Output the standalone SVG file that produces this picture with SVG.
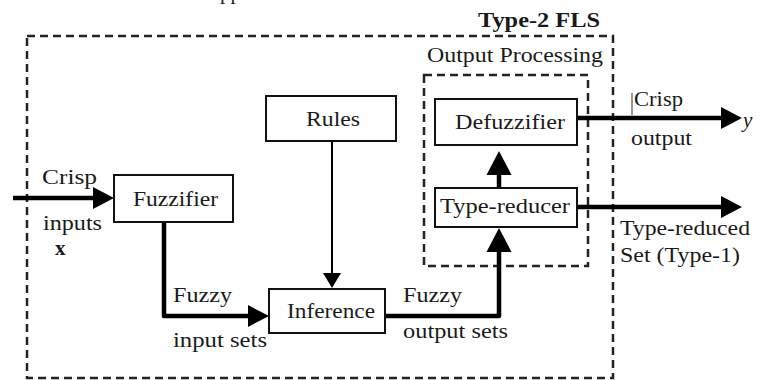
<svg xmlns="http://www.w3.org/2000/svg" width="758" height="380" viewBox="0 0 758 380">
<style>
text{font-family:"Liberation Serif","Times New Roman",serif;font-size:21px;fill:#1a1a1a}
.b{font-weight:bold}
.box{fill:#fff;stroke:#111;stroke-width:2}
.dash{fill:none;stroke:#222;stroke-width:2.5;stroke-dasharray:8 5}
.thick{fill:none;stroke:#000;stroke-width:4.5;stroke-linejoin:round}
.thin{fill:none;stroke:#000;stroke-width:2}
.mid{text-anchor:middle}
</style>
<defs>
<marker id="ah" markerUnits="userSpaceOnUse" markerWidth="30" markerHeight="30" viewBox="0 -15 30 30" refX="0" refY="0" orient="auto" overflow="visible"><path d="M0,-11 L21,0 L0,11 z" fill="#000"/></marker>
<marker id="av" markerUnits="userSpaceOnUse" markerWidth="30" markerHeight="30" viewBox="0 -15 30 30" refX="0" refY="0" orient="auto" overflow="visible"><path d="M0,-12.5 L24,0 L0,12.5 z" fill="#000"/></marker>
<marker id="at" markerUnits="userSpaceOnUse" markerWidth="30" markerHeight="30" viewBox="0 -15 30 30" refX="0" refY="0" orient="auto" overflow="visible"><path d="M0,-9 L15,0 L0,9 z" fill="#000"/></marker>
</defs>
<text x="220" y="-1" font-size="22">pp</text>
<g id="type2-fls">
<rect class="dash" x="27" y="36" width="586" height="342"/>
<text class="b" x="478" y="27" textLength="122" lengthAdjust="spacingAndGlyphs">Type-2 FLS</text>
</g>
<g id="output-processing">
<rect class="dash" x="424" y="75" width="164" height="191"/>
<text x="427" y="62" textLength="176" lengthAdjust="spacingAndGlyphs">Output Processing</text>
</g>
<g id="connectors">
<line class="thick" x1="13" y1="198" x2="93" y2="198" marker-end="url(#ah)"/>
<path class="thick" d="M164,222 V316 H248" marker-end="url(#ah)"/>
<line class="thin" x1="332" y1="141" x2="332" y2="273" marker-end="url(#at)"/>
<path class="thick" d="M385,316 H499 V252" marker-end="url(#av)"/>
<line class="thick" x1="499" y1="188" x2="499" y2="175" marker-end="url(#av)"/>
<line class="thick" x1="577" y1="118" x2="721" y2="118" marker-end="url(#ah)"/>
<line class="thick" x1="577" y1="207" x2="721" y2="207" marker-end="url(#ah)"/>
<line x1="632" y1="93" x2="632" y2="115" stroke="#333" stroke-width="1"/>
<text x="42" y="184" textLength="55" lengthAdjust="spacingAndGlyphs">Crisp</text>
<text x="43" y="230" textLength="59" lengthAdjust="spacingAndGlyphs">inputs</text>
<text class="b" x="55" y="255">x</text>
<text x="173" y="302" textLength="59" lengthAdjust="spacingAndGlyphs">Fuzzy</text>
<text x="173" y="347" textLength="94" lengthAdjust="spacingAndGlyphs">input sets</text>
<text x="403" y="302" textLength="59" lengthAdjust="spacingAndGlyphs">Fuzzy</text>
<text x="403" y="338" textLength="105" lengthAdjust="spacingAndGlyphs">output sets</text>
<text x="634" y="106" textLength="49" lengthAdjust="spacingAndGlyphs">Crisp</text>
<text x="631" y="145" textLength="61" lengthAdjust="spacingAndGlyphs">output</text>
<text x="743" y="127" font-style="italic">y</text>
<text x="620" y="235" textLength="130" lengthAdjust="spacingAndGlyphs">Type-reduced</text>
<text x="620" y="262" textLength="120" lengthAdjust="spacingAndGlyphs">Set (Type-1)</text>
</g>
<g id="rules">
<rect class="box" x="266" y="96" width="130" height="45"/>
<text x="306" y="126" textLength="54" lengthAdjust="spacingAndGlyphs">Rules</text>
</g>
<g id="fuzzifier">
<rect class="box" x="114" y="175" width="119" height="47"/>
<text x="133" y="206" textLength="85" lengthAdjust="spacingAndGlyphs">Fuzzifier</text>
</g>
<g id="inference">
<rect class="box" x="269" y="289" width="116" height="44"/>
<text x="287" y="318" textLength="88" lengthAdjust="spacingAndGlyphs">Inference</text>
</g>
<g id="defuzzifier">
<rect class="box" x="435" y="99" width="142" height="46"/>
<text x="455" y="129" textLength="110" lengthAdjust="spacingAndGlyphs">Defuzzifier</text>
</g>
<g id="type-reducer">
<rect class="box" x="435" y="188" width="142" height="39"/>
<text x="440" y="213" textLength="130" lengthAdjust="spacingAndGlyphs">Type-reducer</text>
</g>
</svg>
